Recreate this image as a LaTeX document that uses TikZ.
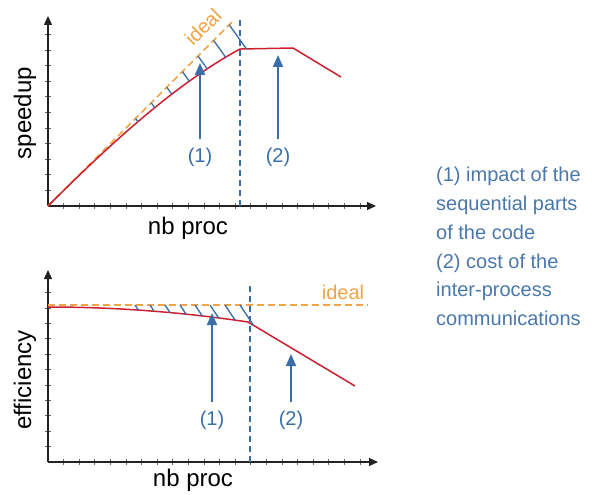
\documentclass[tikz,border=0pt]{standalone}
\usepackage{fontspec}
\setmainfont{Liberation Sans}
\usetikzlibrary{arrows.meta,intersections}
\definecolor{cblue}{HTML}{3A6EA8}
\definecolor{ctext}{HTML}{4A78AC}
\definecolor{corange}{HTML}{F2A444}
\definecolor{cred}{HTML}{CC2030}
\definecolor{caxis}{HTML}{222222}
\begin{document}
\begin{tikzpicture}[x=1pt,y=-1pt,
 axis/.style={line width=1.4pt,draw=caxis,-{Triangle[width=8pt,length=9pt]}},
 tickmark/.style={line width=0.8pt,draw=caxis!70},
 curve/.style={line width=1.5pt,draw=cred},
 idealline/.style={line width=1.5pt,draw=corange,dash pattern=on 7pt off 4pt},
 vline/.style={line width=1.3pt,draw=cblue,dash pattern=on 6pt off 4pt},
 hatch/.style={line width=1.3pt,draw=cblue},
 marker/.style={line width=1.8pt,draw=cblue,-{Triangle[width=10pt,length=12pt]}},
 lbl/.style={text=cblue,inner sep=1pt,font=\fontsize{20}{24}\selectfont},
 axlbl/.style={text=black,inner sep=1pt,font=\fontsize{24}{28}\selectfont},
]
\useasboundingbox (0,0) rectangle (595,495);
\fill[white] (0,0) rectangle (595,495);

% ---------- top chart ----------
\coordinate (O1) at (48,206);
\coordinate (Y1) at (48,16);
\coordinate (X1) at (376,206);
\foreach \k in {1,...,20} \draw[tickmark] ({48+15.6*\k},203) -- ++(0,6);
\foreach \k in {1,...,11} \draw[tickmark] (45,{206-15.6*\k}) -- ++(6,0);
\draw[axis] (O1) -- (Y1);
\draw[axis] (O1) -- (X1);

\coordinate (I1e) at (232,22);
\draw[idealline] (O1) -- (I1e);
\draw[curve,name path=c1] plot[domain=0:1,samples=40,smooth] ({48+192*\x},{206-192*\x+35*(0.5*\x*\x+0.5*\x*\x*\x)}) -- (293,48) -- (341,77);
\foreach \xs in {135.6,151.2,166.8,182.4,198,213.6,229.2} {
  \path[name path=h] (\xs,{206-(\xs-48)}) -- ++(30,42);
  \draw[hatch,name intersections={of=h and c1,by=p}] (\xs,{206-(\xs-48)}) -- (p);
}
\coordinate (V1b) at (240,206);
\coordinate (V1t) at (240,20);
\draw[vline] (V1b) -- (V1t);

\node[lbl,text=corange,rotate=45] (ideal1) at (203,27) {ideal};

\node[lbl] (l11) at (200,157) {(1)};
\coordinate (a11) at (200,63);
\draw[marker] ([yshift=7pt]l11.north) -- (a11);
\node[lbl] (l12) at (278,157) {(2)};
\coordinate (a12) at (278,55);
\draw[marker] ([yshift=7pt]l12.north) -- (a12);

\node[axlbl,rotate=90] (sp) at (25,113) {speedup};
\node[axlbl] (nb1) at (188,228) {nb proc};

% ---------- bottom chart ----------
\coordinate (O2) at (48,462);
\coordinate (Y2) at (48,270);
\coordinate (X2) at (378,462);
\foreach \k in {1,...,20} \draw[tickmark] ({48+15.6*\k},459) -- ++(0,6);
\foreach \k in {1,...,11} \draw[tickmark] (45,{462-15.4*\k}) -- ++(6,0);
\draw[axis] (O2) -- (Y2);
\draw[axis] (O2) -- (X2);

\coordinate (I2s) at (48,305);
\coordinate (I2e) at (368,305);
\draw[idealline] (I2s) -- (I2e);
\draw[curve,name path=c2] plot[domain=0:1,samples=30,smooth] ({48+200*\x},{307+15*\x*\x}) -- (355,386);
\foreach \xs in {135,150,165,180,195,210,225,240} {
  \path[name path=h] (\xs,305) -- ++(20,30);
  \draw[hatch,name intersections={of=h and c2,by=p}] (\xs,305) -- (p);
}
\coordinate (V2b) at (250,462);
\coordinate (V2t) at (250,282);
\draw[vline] (V2b) -- (V2t);

\node[lbl,text=corange] (ideal2) at (343,292) {ideal};

\node[lbl] (l21) at (212,420) {(1)};
\coordinate (a21) at (212,313);
\draw[marker] ([yshift=7pt]l21.north) -- (a21);
\node[lbl] (l22) at (291,420) {(2)};
\coordinate (a22) at (291,354);
\draw[marker] ([yshift=7pt]l22.north) -- (a22);

\node[axlbl,rotate=90] (ef) at (25,380) {efficiency};
\node[axlbl] (nb2) at (193,480) {nb proc};

% ---------- legend ----------
\node[anchor=north west,inner sep=0pt,align=left,text=ctext,font=\fontsize{20}{28.8}\selectfont] (legend) at (436,167)
 {(1) impact of the\\sequential parts\\of the code\\(2) cost of the\\inter-process\\communications};
\end{tikzpicture}
\end{document}
